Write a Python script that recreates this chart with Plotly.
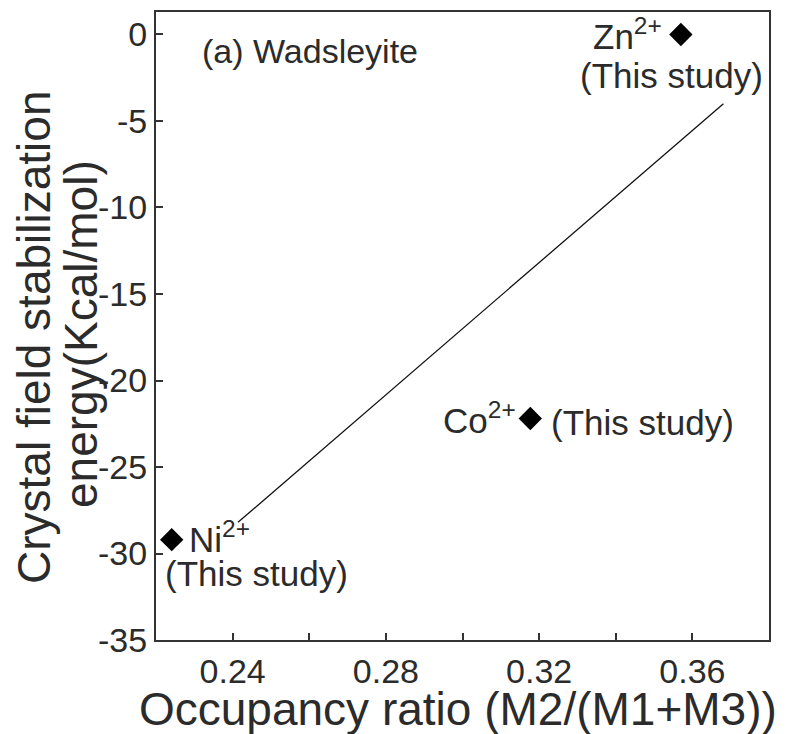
import plotly.graph_objects as go

# Data
ions = ["Zn", "Co", "Ni"]
occupancy_ratio = [0.357, 0.3177, 0.2241]
cfse = [0.0, -22.2, -29.2]

fit_x = [0.2414, 0.3681]
fit_y = [-28.2, -4.0]

x_tickvals = [0.24, 0.26, 0.28, 0.30, 0.32, 0.34, 0.36]
x_ticktext = ["0.24", "", "0.28", "", "0.32", "", "0.36"]
y_tickvals = [0, -5, -10, -15, -20, -25, -30, -35]
y_ticktext = ["0", "-5", "-10", "-15", "-20", "-25", "-30", "-35"]

W, H = 788, 734
L, R, T, B = 156, 19, 10, 94
X0, X1 = 0.22, 0.38
Y0, Y1 = -35, 1.3

FONT = "Liberation Sans, Arial, sans-serif"
TXT = "#2b2b2b"

def px(xp):
    return (xp - L) / (W - L - R)

def py(yp):
    return 1 - (yp - T) / (H - T - B)

fig = go.Figure()
fig.add_trace(go.Scatter(x=fit_x, y=fit_y, mode="lines",
                         line=dict(color="#111111", width=1.3),
                         hoverinfo="skip", showlegend=False))
fig.add_trace(go.Scatter(x=occupancy_ratio, y=cfse, mode="markers",
                         marker=dict(symbol="diamond", size=18, color="black"),
                         text=ions, showlegend=False))

annots = [
    dict(text="(a) Wadsleyite", x=px(200), y=py(49), xanchor="left", yanchor="middle", size=34),
    dict(text="Zn<sup>2+</sup>", x=px(664), y=py(32), xanchor="right", yanchor="middle", size=35),
    dict(text="(This study)", x=px(765), y=py(74), xanchor="right", yanchor="middle", size=35),
    dict(text="Co<sup>2+</sup>", x=px(518), y=py(417), xanchor="right", yanchor="middle", size=35),
    dict(text="(This study)", x=px(549), y=py(422), xanchor="left", yanchor="middle", size=35),
    dict(text="Ni<sup>2+</sup>", x=px(187), y=py(537), xanchor="left", yanchor="middle", size=35),
    dict(text="(This study)", x=px(163), y=py(573), xanchor="left", yanchor="middle", size=35),
]
for a in annots:
    fig.add_annotation(text=a["text"], x=a["x"], y=a["y"], xref="paper", yref="paper",
                       xanchor=a["xanchor"], yanchor=a["yanchor"], showarrow=False,
                       font=dict(family=FONT, size=a["size"], color=TXT))

# Axis titles (placed as annotations to control line spacing)
fig.add_annotation(text="Occupancy ratio (M2/(M1+M3))", x=px(458), y=py(709),
                   xref="paper", yref="paper", xanchor="center", yanchor="middle",
                   showarrow=False, font=dict(family=FONT, size=46, color=TXT))
fig.add_annotation(text="Crystal field stabilization", x=px(34), y=py(337),
                   xref="paper", yref="paper", xanchor="center", yanchor="middle",
                   textangle=-90, showarrow=False, font=dict(family=FONT, size=46, color=TXT))
fig.add_annotation(text="energy(Kcal/mol)", x=px(81), y=py(333),
                   xref="paper", yref="paper", xanchor="center", yanchor="middle",
                   textangle=-90, showarrow=False, font=dict(family=FONT, size=46, color=TXT))

axis_common = dict(showgrid=False, zeroline=False, showline=True, mirror=True,
                   linecolor="#333333", linewidth=2, ticks="inside", ticklen=7,
                   tickwidth=1.5, tickcolor="#333333",
                   tickfont=dict(family=FONT, size=34, color=TXT))

fig.update_xaxes(range=[X0, X1], tickmode="array", tickvals=x_tickvals, ticktext=x_ticktext,
                 **axis_common)
fig.update_yaxes(range=[Y0, Y1], tickmode="array", tickvals=y_tickvals, ticktext=y_ticktext,
                 **axis_common)

fig.update_layout(width=W, height=H, margin=dict(l=L, r=R, t=T, b=B),
                  plot_bgcolor="white", paper_bgcolor="white")

fig.write_html("out.html")
